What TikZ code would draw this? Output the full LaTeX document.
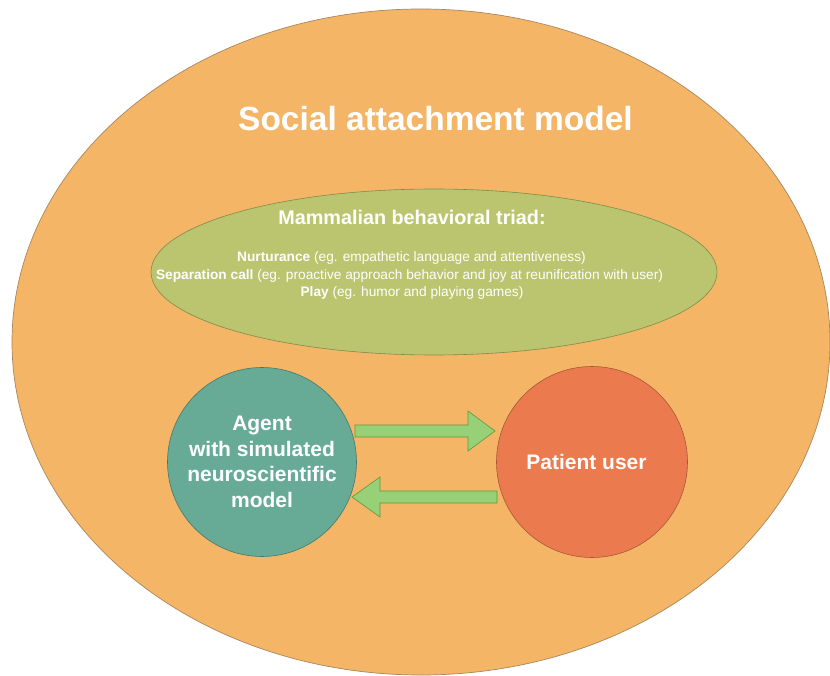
\documentclass[tikz,border=0pt]{standalone}
\usepackage{fontspec}
\setmainfont{Liberation Sans}
\usetikzlibrary{shapes.geometric,calc}
\definecolor{outerfill}{HTML}{F4B567}
\definecolor{outerdraw}{HTML}{A8865E}
\definecolor{triadfill}{HTML}{BBC570}
\definecolor{triaddraw}{HTML}{7E8C48}
\definecolor{agentfill}{HTML}{67AB96}
\definecolor{agentdraw}{HTML}{44786A}
\definecolor{userfill}{HTML}{EB7A4E}
\definecolor{userdraw}{HTML}{A85636}
\definecolor{arrfill}{HTML}{97D077}
\definecolor{arrdraw}{HTML}{5E9A3E}
\tikzset{
  outerell/.style={ellipse, draw=outerdraw, line width=0.7pt, fill=outerfill, inner sep=0pt, minimum width=818pt, minimum height=666pt},
  triadell/.style={ellipse, draw=triaddraw, line width=0.6pt, fill=triadfill, inner sep=0pt, minimum width=566pt, minimum height=166pt},
  ball/.style={circle, line width=0.6pt, inner sep=0pt, text=white, align=center,
    font=\fontsize{21}{25.6}\selectfont\bfseries},
  titletext/.style={text=white, inner sep=0pt, anchor=base, font=\fontsize{33.5}{40}\selectfont\bfseries},
  headtext/.style={text=white, inner sep=0pt, anchor=base, font=\fontsize{19.8}{24}\selectfont\bfseries},
  bodytext/.style={text=white, inner sep=0pt, anchor=base, font=\fontsize{13.7}{17.5}\selectfont},
  blockarrow/.style={draw=arrdraw, fill=arrfill, line width=0.6pt, line join=miter}
}
\begin{document}
\begin{tikzpicture}[x=1pt,y=-1pt]
\useasboundingbox (0,0) rectangle (830,676);
\node[outerell] (outer) at (421,342) {};
\node[titletext] (title) at (435.5,131) {Social attachment model};
\node[triadell] (triad) at (434,272) {};
\node[headtext] (triadhead) at (412,225) {Mammalian behavioral triad:};
\node[bodytext] (l1) at (411.5,262) {\textbf{Nurturance} (eg. empathetic language and attentiveness)};
\node[bodytext] (l2) at (409.5,279.5) {\textbf{Separation call} (eg. proactive approach behavior and joy at reunification with user)};
\node[bodytext] (l3) at (412,297) {\textbf{Play} (eg. humor and playing games)};
\node[ball, draw=agentdraw, fill=agentfill, minimum size=189pt] (agent) at (262,462) {Agent\\with simulated\\neuroscientific\\model};
\node[ball, draw=userdraw, fill=userfill, minimum size=191pt] (user) at (592,462) {};
\node[ball] (usertext) at (586.5,462) {Patient user};
% arrow agent -> user
\coordinate (a1) at ($(agent.center)+(93,-31)$);
\coordinate (a2) at ($(user.center)+(-97,-31)$);
\draw[blockarrow] ($(a1)+(0,-6)$) -- ($(a2)+(-27,-6)$) -- ($(a2)+(-27,-20)$) -- (a2)
  -- ($(a2)+(-27,20)$) -- ($(a2)+(-27,6)$) -- ($(a1)+(0,6)$) -- cycle;
% arrow user -> agent
\coordinate (b1) at ($(user.center)+(-95,35)$);
\coordinate (b2) at ($(agent.center)+(90,35)$);
\draw[blockarrow] ($(b1)+(0,-6)$) -- ($(b2)+(28,-6)$) -- ($(b2)+(28,-20)$) -- (b2)
  -- ($(b2)+(28,20)$) -- ($(b2)+(28,6)$) -- ($(b1)+(0,6)$) -- cycle;
\end{tikzpicture}
\end{document}
